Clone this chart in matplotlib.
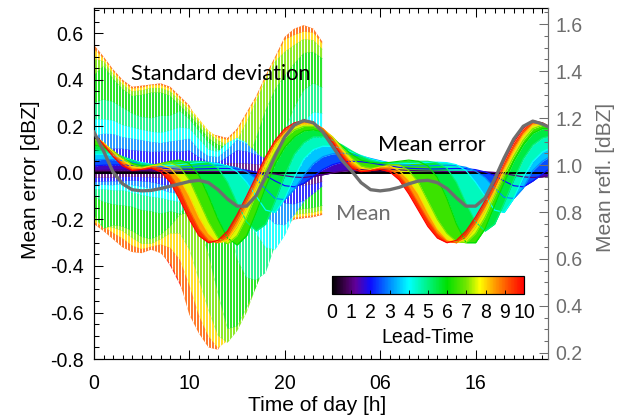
import numpy as np
import matplotlib.pyplot as plt
from matplotlib.colors import LinearSegmentedColormap, Normalize
from matplotlib.cm import ScalarMappable
from matplotlib.ticker import MultipleLocator

plt.rcParams['font.family'] = ['Liberation Sans', 'DejaVu Sans']
plt.rcParams['hatch.linewidth'] = 0.9

# time axis [h], two days; std bars only for the first day
hours = np.arange(0, 49)
std_hours = np.arange(0, 25)
lead_times = [0, 1, 2, 3, 4, 5, 6, 7, 8, 9, 10]
x_ticks = [0, 10, 20, 30, 40]
x_ticklabels = ['0', '10', '20', '06', '16']

# mean error [dBZ] for each lead time
me_lt0 = [0.0] * 49
me_lt1 = [0.01, 0.011, 0.012, 0.012, 0.012, 0.011, 0.01, 0.009, 0.008, 0.007,
          0.006, 0.006, 0.006, 0.006, 0.006, 0.006, 0.005, 0.003, 0.0, -0.005,
          -0.012, -0.018, -0.02, -0.015, -0.008, 0.0, 0.007, 0.012, 0.015, 0.016,
          0.016, 0.015, 0.013, 0.011, 0.009, 0.008, 0.007, 0.006, 0.006, 0.006,
          0.006, 0.005, 0.002, -0.003, -0.01, -0.017, -0.02, -0.017, -0.01]
me_lt2 = [0.03, 0.033, 0.034, 0.034, 0.032, 0.029, 0.025, 0.021, 0.018, 0.016,
          0.016, 0.017, 0.018, 0.019, 0.019, 0.017, 0.012, 0.003, -0.012, -0.035,
          -0.055, -0.06, -0.045, -0.015, 0.015, 0.035, 0.047, 0.05, 0.048, 0.043,
          0.036, 0.03, 0.024, 0.02, 0.018, 0.017, 0.017, 0.018, 0.019, 0.018,
          0.014, 0.004, -0.012, -0.035, -0.055, -0.06, -0.035, -0.005, 0.025]
me_lt3 = [0.055, 0.058, 0.057, 0.053, 0.047, 0.04, 0.033, 0.028, 0.025, 0.025,
          0.027, 0.03, 0.032, 0.033, 0.03, 0.022, 0.005, -0.025, -0.07, -0.11,
          -0.115, -0.07, -0.01, 0.04, 0.07, 0.082, 0.085, 0.08, 0.072, 0.062,
          0.052, 0.043, 0.036, 0.032, 0.03, 0.03, 0.032, 0.033, 0.031, 0.024,
          0.008, -0.02, -0.065, -0.105, -0.11, -0.065, 0.01, 0.05, 0.075]
me_lt4 = [0.08, 0.08, 0.075, 0.065, 0.055, 0.045, 0.037, 0.032, 0.032, 0.035,
          0.04, 0.045, 0.045, 0.04, 0.03, 0.005, -0.04, -0.10, -0.16, -0.17,
          -0.11, -0.02, 0.06, 0.10, 0.115, 0.115, 0.105, 0.09, 0.075, 0.06,
          0.05, 0.043, 0.04, 0.04, 0.042, 0.045, 0.046, 0.044, 0.035, 0.01,
          -0.04, -0.10, -0.16, -0.17, -0.11, -0.02, 0.05, 0.09, 0.11]
me_lt5 = [0.10, 0.095, 0.085, 0.07, 0.055, 0.04, 0.035, 0.035, 0.04, 0.045,
          0.05, 0.05, 0.045, 0.02, -0.04, -0.13, -0.21, -0.25, -0.22, -0.12,
          -0.01, 0.08, 0.13, 0.155, 0.155, 0.14, 0.12, 0.095, 0.072, 0.055,
          0.045, 0.042, 0.043, 0.046, 0.05, 0.05, 0.043, 0.02, -0.04, -0.13,
          -0.21, -0.25, -0.22, -0.13, -0.03, 0.06, 0.12, 0.15, 0.16]
me_lt6 = [0.12, 0.11, 0.09, 0.065, 0.04, 0.03, 0.03, 0.04, 0.05, 0.055,
          0.04, -0.01, -0.10, -0.20, -0.28, -0.31, -0.27, -0.17, -0.06, 0.04,
          0.11, 0.155, 0.18, 0.185, 0.175, 0.15, 0.115, 0.08, 0.055, 0.045,
          0.042, 0.045, 0.05, 0.055, 0.05, 0.03, -0.02, -0.11, -0.22, -0.30,
          -0.30, -0.24, -0.14, -0.04, 0.05, 0.12, 0.17, 0.19, 0.19]
me_lt7 = [0.145, 0.125, 0.095, 0.065, 0.035, 0.025, 0.03, 0.04, 0.045, 0.025,
          -0.03, -0.12, -0.21, -0.28, -0.305, -0.27, -0.19, -0.09, 0.01, 0.09,
          0.15, 0.185, 0.20, 0.20, 0.185, 0.155, 0.11, 0.065, 0.03, 0.02,
          0.025, 0.035, 0.035, 0.01, -0.04, -0.12, -0.20, -0.26, -0.295, -0.30,
          -0.26, -0.19, -0.10, -0.01, 0.07, 0.14, 0.19, 0.205, 0.195]
me_lt8 = [0.16, 0.13, 0.09, 0.055, 0.025, 0.02, 0.03, 0.035, 0.02, -0.025,
          -0.10, -0.19, -0.26, -0.30, -0.29, -0.23, -0.15, -0.06, 0.04, 0.12,
          0.17, 0.20, 0.21, 0.21, 0.19, 0.155, 0.10, 0.05, 0.02, 0.015,
          0.025, 0.03, 0.01, -0.03, -0.09, -0.17, -0.24, -0.285, -0.30, -0.285,
          -0.23, -0.16, -0.08, 0.01, 0.09, 0.16, 0.205, 0.21, 0.195]
me_lt9 = [0.165, 0.125, 0.08, 0.04, 0.015, 0.015, 0.025, 0.02, -0.01, -0.07,
          -0.16, -0.24, -0.29, -0.30, -0.27, -0.20, -0.12, -0.03, 0.06, 0.13,
          0.18, 0.21, 0.22, 0.215, 0.19, 0.145, 0.085, 0.035, 0.01, 0.01,
          0.02, 0.015, -0.01, -0.06, -0.13, -0.20, -0.26, -0.295, -0.30, -0.27,
          -0.21, -0.14, -0.06, 0.03, 0.11, 0.175, 0.215, 0.215, 0.195]
me_lt10 = [0.17, 0.12, 0.07, 0.03, 0.01, 0.015, 0.02, 0.005, -0.04, -0.115,
           -0.20, -0.27, -0.30, -0.29, -0.25, -0.18, -0.10, -0.015, 0.07, 0.14,
           0.19, 0.215, 0.225, 0.215, 0.18, 0.13, 0.07, 0.02, 0.005, 0.01,
           0.015, 0.005, -0.03, -0.09, -0.16, -0.23, -0.28, -0.30, -0.29, -0.25,
           -0.19, -0.12, -0.04, 0.05, 0.13, 0.19, 0.225, 0.215, 0.19]

# standard deviation [dBZ] for each lead time, first day
sd_lt1 = [0.031, 0.032, 0.032, 0.03, 0.029, 0.029, 0.029, 0.03, 0.032, 0.034, 0.036, 0.037, 0.02,
          0.02, 0.036, 0.036, 0.035, 0.034, 0.034, 0.033, 0.033, 0.033, 0.034, 0.033, 0.03]
sd_lt2 = [0.07, 0.07, 0.07, 0.07, 0.065, 0.065, 0.065, 0.07, 0.075, 0.075, 0.08, 0.05, 0.03,
          0.025, 0.05, 0.08, 0.08, 0.075, 0.075, 0.075, 0.075, 0.075, 0.075, 0.075, 0.07]
sd_lt3 = [0.105, 0.11, 0.11, 0.10, 0.10, 0.10, 0.10, 0.10, 0.11, 0.115, 0.12, 0.07, 0.04,
          0.035, 0.07, 0.12, 0.12, 0.115, 0.115, 0.11, 0.11, 0.11, 0.115, 0.11, 0.10]
sd_lt4 = [0.15, 0.15, 0.15, 0.14, 0.14, 0.14, 0.14, 0.14, 0.15, 0.16, 0.15, 0.10, 0.055,
          0.05, 0.10, 0.145, 0.17, 0.16, 0.16, 0.16, 0.16, 0.16, 0.16, 0.16, 0.14]
sd_lt5 = [0.20, 0.22, 0.22, 0.21, 0.20, 0.20, 0.20, 0.21, 0.205, 0.22, 0.18, 0.13, 0.085,
          0.08, 0.13, 0.24, 0.24, 0.21, 0.21, 0.19, 0.19, 0.20, 0.225, 0.23, 0.21]
sd_lt6 = [0.30, 0.35, 0.315, 0.295, 0.29, 0.305, 0.315, 0.305, 0.28, 0.235, 0.21, 0.21, 0.25,
          0.32, 0.39, 0.35, 0.31, 0.32, 0.33, 0.32, 0.31, 0.315, 0.335, 0.335, 0.315]
sd_lt7 = [0.345, 0.355, 0.33, 0.315, 0.315, 0.33, 0.335, 0.325, 0.305, 0.285, 0.30, 0.34, 0.38,
          0.42, 0.425, 0.41, 0.41, 0.40, 0.39, 0.39, 0.37, 0.365, 0.375, 0.37, 0.345]
sd_lt8 = [0.372, 0.362, 0.347, 0.337, 0.337, 0.347, 0.347, 0.342, 0.342, 0.347, 0.382, 0.422, 0.442,
          0.452, 0.432, 0.412, 0.402, 0.382, 0.372, 0.372, 0.402, 0.392, 0.397, 0.392, 0.362]
sd_lt9 = [0.385, 0.375, 0.365, 0.36, 0.355, 0.36, 0.355, 0.365, 0.38, 0.40, 0.45, 0.45, 0.46,
          0.46, 0.42, 0.39, 0.38, 0.36, 0.36, 0.37, 0.405, 0.41, 0.415, 0.405, 0.37]
sd_lt10 = [0.34, 0.34, 0.335, 0.33, 0.32, 0.32, 0.31, 0.34, 0.36, 0.365, 0.37, 0.38, 0.41,
           0.41, 0.36, 0.33, 0.32, 0.305, 0.31, 0.32, 0.355, 0.37, 0.37, 0.365, 0.32]

# mean reflectivity [dBZ], right axis
mean_refl = [1.14, 1.06, 0.97, 0.92, 0.895, 0.89, 0.892, 0.90, 0.91, 0.92,
             0.93, 0.935, 0.925, 0.895, 0.855, 0.825, 0.825, 0.87, 0.95, 1.04,
             1.12, 1.17, 1.19, 1.18, 1.14, 1.08, 1.02, 0.975, 0.925, 0.895,
             0.89, 0.895, 0.905, 0.92, 0.932, 0.935, 0.925, 0.90, 0.86, 0.825,
             0.825, 0.86, 0.94, 1.03, 1.11, 1.165, 1.187, 1.175, 1.155]

mean_err = [me_lt0, me_lt1, me_lt2, me_lt3, me_lt4, me_lt5,
            me_lt6, me_lt7, me_lt8, me_lt9, me_lt10]
std_err = [None, sd_lt1, sd_lt2, sd_lt3, sd_lt4, sd_lt5,
           sd_lt6, sd_lt7, sd_lt8, sd_lt9, sd_lt10]

gray = '#6e6e6e'
cmap = LinearSegmentedColormap.from_list('lead', [
    (0.00, (0.0, 0.0, 0.0)),
    (0.07, (0.25, 0.0, 0.32)),
    (0.12, (0.38, 0.0, 0.6)),
    (0.20, (0.05, 0.05, 1.0)),
    (0.30, (0.0, 0.55, 1.0)),
    (0.40, (0.0, 1.0, 1.0)),
    (0.50, (0.0, 0.95, 0.5)),
    (0.60, (0.0, 0.88, 0.0)),
    (0.70, (0.45, 0.9, 0.0)),
    (0.77, (1.0, 1.0, 0.0)),
    (0.85, (1.0, 0.6, 0.0)),
    (0.92, (1.0, 0.3, 0.0)),
    (1.00, (1.0, 0.0, 0.0))])
norm = Normalize(0, 10)


def one_decimal(v, pos):
    return f'{v:.1f}'.replace('-0.0', '0.0')


fig = plt.figure(figsize=(620 / 108, 417 / 108), dpi=108)
ax = fig.add_axes([0.1516, 0.139, 0.7323, 0.842])

# std bars, longest lead time first so the shorter ones stay on top
for lt in lead_times[:0:-1]:
    m = np.array(mean_err[lt][:len(std_hours)])
    s = np.array(std_err[lt])
    ax.fill_between(std_hours, m - s, m + s, facecolor=cmap(norm(lt)),
                    edgecolor='white', linewidth=0, hatch='||||||')

# mean error curves
ax.plot(hours, mean_err[0], color='black', lw=1.3)
for lt in lead_times[:-1]:
    ax.fill_between(hours, mean_err[lt], mean_err[lt + 1],
                    color=cmap(norm(lt + 0.5)), linewidth=0)
    ax.plot(hours, mean_err[lt + 1], color=cmap(norm(lt + 1)), lw=0.8)

ax.set_xlim(0, 47.6)
ax.set_ylim(-0.8, 0.709)
ax.set_xticks(x_ticks, x_ticklabels)
ax.xaxis.set_minor_locator(MultipleLocator(1))
ax.set_yticks(np.arange(-0.8, 0.61, 0.2))
ax.yaxis.set_minor_locator(MultipleLocator(0.05))
ax.yaxis.set_major_formatter(one_decimal)
ax.tick_params(which='both', direction='in', top=True, right=False,
               labelsize=13, width=0.7)
ax.tick_params(which='major', length=6)
ax.tick_params(which='minor', length=3)
ax.tick_params(axis='x', pad=10)
ax.tick_params(axis='y', pad=7)
ax.spines['right'].set_visible(False)

ax.set_xlabel('Time of day [h]', fontsize=14)
ax.xaxis.set_label_coords(0.492, -0.105)
ax.set_ylabel('Mean error [dBZ]', fontsize=14)
ax.yaxis.set_label_coords(-0.12, 0.51)

ax.text(13.3, 0.426, 'Standard deviation', family='Lato', fontsize=14.5,
        ha='center', va='center')
ax.text(35.4, 0.12, 'Mean error', family='Lato', fontsize=14.5,
        ha='center', va='center')
ax.text(28.2, -0.177, 'Mean', family='Lato', fontsize=14.5, color=gray,
        ha='center', va='center')

# mean reflectivity on the right axis
ax2 = ax.twinx()
ax2.plot(hours, mean_refl, color=gray, lw=2.2)
ax2.set_ylim(0.174, 1.669)
ax2.set_yticks(np.arange(0.2, 1.61, 0.2))
ax2.yaxis.set_minor_locator(MultipleLocator(0.05))
ax2.yaxis.set_major_formatter(one_decimal)
ax2.tick_params(which='both', direction='in', colors=gray, labelsize=13,
                width=0.7, pad=5)
ax2.tick_params(which='major', length=6)
ax2.tick_params(which='minor', length=3)
for side in ['left', 'top', 'bottom']:
    ax2.spines[side].set_visible(False)
ax2.spines['right'].set_color(gray)
ax2.set_ylabel('Mean refl. [dBZ]', fontsize=14, color=gray)
ax2.yaxis.set_label_coords(1.105, 0.518)

# lead-time colour bar
cax = fig.add_axes([0.5355, 0.295, 0.3097, 0.0432])
cb = fig.colorbar(ScalarMappable(norm=norm, cmap=cmap), cax=cax,
                  orientation='horizontal', ticks=lead_times)
cb.outline.set_linewidth(0.8)
cb.ax.tick_params(labelsize=13, direction='in', length=3, width=0.6, pad=6)
cb.set_label('Lead-Time', fontsize=13, labelpad=4)

fig.savefig('out.png', dpi=108)
